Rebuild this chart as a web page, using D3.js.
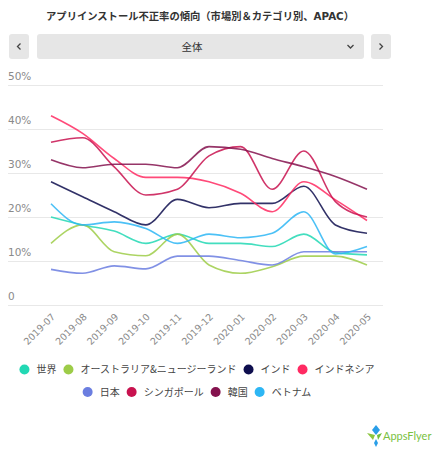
<!DOCTYPE html>
<html><head><meta charset="utf-8">
<script src="https://cdn.jsdelivr.net/npm/d3@7"></script>
<style>
body{margin:0;background:#fff;}
svg{display:block;font-family:"DejaVu Sans","Noto Sans CJK JP",sans-serif;}
</style></head>
<body>
<svg id="c" width="441" height="450"></svg>
<script>
const months = ["2019-07","2019-08","2019-09","2019-10","2019-11","2019-12","2020-01","2020-02","2020-03","2020-04","2020-05"];
const yTicks = [0,10,20,30,40,50];
const seriesNames = ["世界","オーストラリア&ニュージーランド","インド","インドネシア","日本","シンガポール","韓国","ベトナム"];
const seriesColors = ["#22d8b4","#9dcc48","#0e0e4e","#ff2a62","#6b7ee0","#c8124f","#84124e","#2db6f4"];
const world     = [20,18.2,16.8,14,16.1,14,14,13.3,16.1,11.9,11.4];
const ausNz     = [14,18.2,12.1,11.2,16.1,9.1,7.2,8.7,11.1,11.1,9.1];
const india     = [28,24.6,21.2,18.2,24,22.1,23.1,23.1,27,18.2,16.3];
const indonesia = [43,39,33.3,29,29,28,25.4,21.2,28,23.9,19.2];
const japan     = [8.1,7.2,8.9,8.2,11.1,11.1,10.1,9.1,12.1,12.1,12.1];
const singapore = [37,38,31.4,25,26.3,33.9,36,26.3,35,23.5,20];
const korea     = [33,31.2,32,32,31.2,36,35.4,33.3,31.4,29.2,26.3];
const vietnam   = [23,18.2,18.9,17.4,14,16.1,15.3,16.3,21.2,11.6,13.3];
const seriesValues = [world,ausNz,india,indonesia,japan,singapore,korea,vietnam];

const svg = d3.select("#c");
const x = d3.scalePoint().domain(months).range([51,367]);
const y = d3.scaleLinear().domain([0,50]).range([305,85]);

// title
svg.append("text").attr("x",200).attr("y",20).attr("text-anchor","middle")
  .attr("font-size",10.3).attr("font-weight","bold").attr("fill","#333")
  .text("アプリインストール不正率の傾向（市場別＆カテゴリ別、APAC）");

// dropdown bar
const gbar = svg.append("g");
gbar.append("rect").attr("x",9).attr("y",34).attr("width",20).attr("height",25).attr("rx",3).attr("fill","#e6e6e6");
gbar.append("rect").attr("x",37).attr("y",34).attr("width",327).attr("height",25).attr("rx",3).attr("fill","#e6e6e6");
gbar.append("rect").attr("x",371).attr("y",34).attr("width",20).attr("height",25).attr("rx",3).attr("fill","#e6e6e6");
gbar.append("path").attr("d","M20.5,43.5 L17.5,46.5 L20.5,49.5").attr("fill","none").attr("stroke","#444").attr("stroke-width",1.3);
gbar.append("path").attr("d","M379.5,43.5 L382.5,46.5 L379.5,49.5").attr("fill","none").attr("stroke","#444").attr("stroke-width",1.3);
gbar.append("path").attr("d","M347.5,45 L350.5,48 L353.5,45").attr("fill","none").attr("stroke","#444").attr("stroke-width",1.3);
gbar.append("text").attr("x",192).attr("y",50.5).attr("text-anchor","middle").attr("font-size",10.5).attr("fill","#333").text("全体");

// grid + y labels
const yAxis = d3.axisLeft(y).tickValues(yTicks).tickSize(-375).tickFormat(d => d===0 ? "0" : d+"%");
const ga = svg.append("g").attr("transform","translate(8,0)").call(yAxis);
ga.select(".domain").remove();
ga.selectAll(".tick line").attr("stroke","#e8e8e8").attr("stroke-width",1);
ga.selectAll(".tick text").attr("x",0).attr("dy","-0.55em").attr("text-anchor","start")
  .attr("font-size",10.5).attr("fill","#8a8a8a").attr("font-family","DejaVu Sans, sans-serif");

// x labels
const xAxis = d3.axisBottom(x).tickSize(0);
const gx = svg.append("g").attr("transform","translate(0,305)").call(xAxis);
gx.select(".domain").remove();
gx.selectAll(".tick text").attr("transform","translate(2,10) rotate(-45)").attr("text-anchor","end")
  .attr("dy","0.35em").attr("y",0).attr("x",0)
  .attr("font-size",9.5).attr("fill","#8a8a8a").attr("font-family","DejaVu Sans, sans-serif");

// lines
const line = d3.line().x((d,i)=>x(months[i])).y(d=>y(d)).curve(d3.curveMonotoneX);
svg.append("g").selectAll("path").data(seriesValues).join("path")
  .attr("d",line).attr("fill","none").attr("stroke",(d,i)=>seriesColors[i]).attr("stroke-width",1.6).attr("stroke-opacity",0.85);

// legend (centered rows, measured)
const legendRows = [{y:369.5, items:[0,1,2,3]},{y:392, items:[4,5,6,7]}];
const lg = svg.append("g");
legendRows.forEach(r=>{
  const row = lg.append("g");
  let cx = 0;
  r.items.forEach((i,k)=>{
    row.append("circle").attr("cx",cx).attr("cy",r.y).attr("r",5).attr("fill",seriesColors[i]);
    const t = row.append("text").attr("x",cx+12).attr("y",r.y+3.6).attr("font-size",10).attr("fill","#444")
      .attr("font-family","Noto Sans CJK JP, sans-serif").text(seriesNames[i]);
    cx += 12 + t.node().getComputedTextLength() + 12;
  });
  const totalW = cx - 12 + 5; // from circle left (-5) to text end
  const left = 197 - totalW/2 + 5;
  row.attr("transform",`translate(${left},0)`);
});

// logo
const logo = svg.append("g").attr("transform","translate(367,425)");
logo.append("path").attr("d","M9,0 L13,5 L9,10 L5,5 Z").attr("fill","#2a9ee8");
logo.append("path").attr("d","M0,8 L8,10 L6,15 Z").attr("fill","#8cc63f");
logo.append("path").attr("d","M10,10 L15,8 L11,15 Z").attr("fill","#6fbf3a");
logo.append("path").attr("d","M9,14 L11,18 L9,22 L7,18 Z").attr("fill","#2a9ee8");
logo.append("text").attr("x",16).attr("y",15).attr("font-size",11).attr("fill","#7ac143")
  .attr("font-family","Lato, sans-serif").text("AppsFlyer");
</script>
</body></html>
